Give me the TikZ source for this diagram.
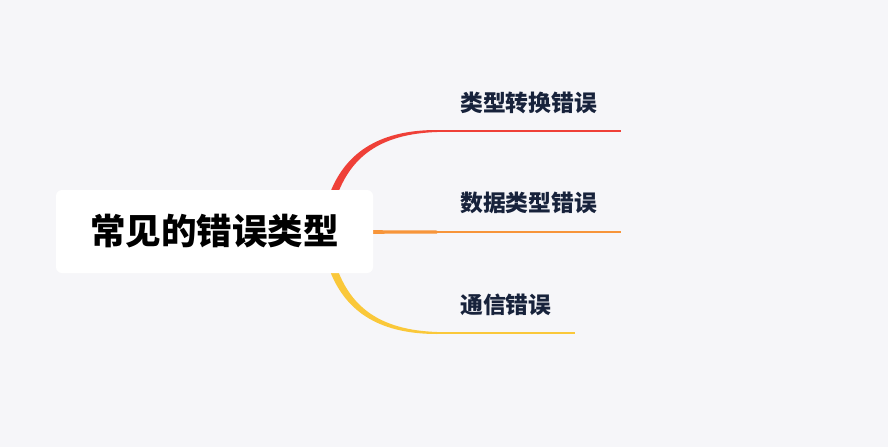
\documentclass[tikz,border=0pt]{standalone}
\usepackage{fontspec}
\newfontfamily\cjk{Noto Sans CJK SC}
\usepackage{tikz}
\definecolor{bgcol}{HTML}{F6F6F9}
\definecolor{redline}{HTML}{EF4038}
\definecolor{orangeline}{HTML}{F7953A}
\definecolor{yellowline}{HTML}{FAC83A}
\definecolor{labelcol}{HTML}{17223B}

\begin{document}
\begin{tikzpicture}
    [x=1pt,y=-1pt,
    rootbox/.style={rectangle,fill=white,rounded corners=6pt,minimum width=317pt,minimum height=83pt,inner sep=0pt,font=\cjk\bfseries\fontsize{35.5}{42}\selectfont},
    leaf/.style={anchor=west,inner sep=0pt,text=labelcol,font=\cjk\bfseries\fontsize{22.8}{27}\selectfont},
    branch/.style={line width=2pt}]
      \fill[bgcol] (0,0) rectangle (888,447);
      \useasboundingbox (0,0) rectangle (888,447);
      % branches, drawn first so the root box covers their start
      \coordinate (t1) at (437,131);
      \coordinate (t2) at (437,232);
      \coordinate (t3) at (437,333);
      \fill[redline] (321,232) .. controls (330,150) and (382,130) .. (437,130)
        -- (437,132) .. controls (383,134) and (338,154) .. (329,232) -- cycle;
      \fill[orangeline] (330,230) -- (437,230.5) -- (437,233.5) -- (330,234) -- cycle;
      \fill[yellowline] (321,232) .. controls (330,314) and (382,334) .. (437,334)
        -- (437,332) .. controls (383,330) and (338,310) .. (329,232) -- cycle;
      \node[rootbox] (root) at (214.5,231.5) {常见的错误类型};
      \coordinate (e1) at (621,131);
      \coordinate (e2) at (621,232);
      \coordinate (e3) at (575,333);
      \draw[branch,redline] (t1) -- (e1);
      \draw[branch,orangeline] (t2) -- (e2);
      \draw[branch,yellowline] (t3) -- (e3);
      \node[leaf] (l1) at (460,103) {类型转换错误};
      \node[leaf] (l2) at (460,203) {数据类型错误};
      \node[leaf] (l3) at (460,305) {通信错误};
      \end{tikzpicture}
\end{document}
